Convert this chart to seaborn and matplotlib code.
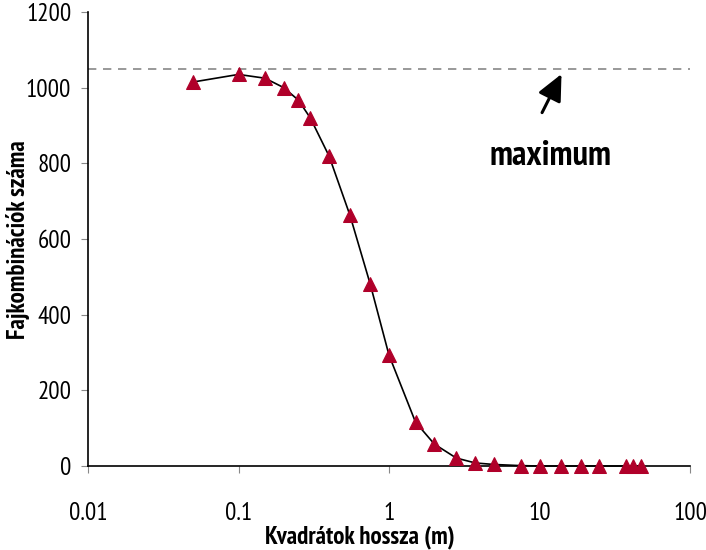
import matplotlib
matplotlib.use("Agg")
import matplotlib.pyplot as plt
import seaborn as sns
import pandas as pd
from matplotlib.ticker import FixedLocator, FixedFormatter, NullLocator

# Data
quadrat_length = [0.05, 0.1, 0.15, 0.2, 0.25, 0.3, 0.4, 0.55, 0.75, 1.0, 1.5, 2.0,
                  2.8, 3.75, 5.0, 7.5, 10, 14, 19, 25, 37.5, 42, 47]
species_pairs = [1015, 1035, 1025, 1000, 967, 920, 819, 663, 481, 293, 116, 58,
                 21, 8, 4, 1, 0, 0, 0, 0, 0, 0, 0]
maximum_value = 1050
x_ticks = [0.01, 0.1, 1, 10, 100]
x_tick_labels = ["0.01", "0.1", "1", "10", "100"]
y_ticks = [0, 200, 400, 600, 800, 1000, 1200]

sns.set_style("white")
plt.rcParams['font.family'] = ['PT Sans Narrow', 'DejaVu Sans']

df = pd.DataFrame({"x": quadrat_length, "y": species_pairs})

fig = plt.figure(figsize=(7.06, 5.5), dpi=100)
ax = fig.add_axes([88/706, 1-466/550, (690-88)/706, (466-12)/550])

sns.lineplot(data=df, x="x", y="y", ax=ax, color="black", linewidth=1.2,
             marker="^", markersize=10, markerfacecolor="#b0002a",
             markeredgecolor="#b0002a", zorder=3, clip_on=False)

ax.set_xscale("log")
ax.set_xlim(0.01, 100)
ax.set_ylim(0, 1200)
ax.xaxis.set_major_locator(FixedLocator(x_ticks))
ax.xaxis.set_major_formatter(FixedFormatter(x_tick_labels))
ax.xaxis.set_minor_locator(NullLocator())
ax.set_yticks(y_ticks)

ax.axhline(maximum_value, color="#888888", linestyle=(0, (5, 4)), linewidth=1.2, zorder=1)

for s in ["top", "right"]:
    ax.spines[s].set_visible(False)
for s in ["left", "bottom"]:
    ax.spines[s].set_color("black")
    ax.spines[s].set_linewidth(1.2)

ax.tick_params(axis="y", which="major", direction="out", length=5, color="#888888",
               labelsize=18, pad=7, left=True, labelcolor="black")
ax.tick_params(axis="x", which="major", direction="out", length=5, color="#888888",
               labelsize=18, pad=21, bottom=True, labelcolor="black")

ax.set_xlabel("Kvadrátok hossza (m)", fontsize=18, fontweight="bold", color="black")
ax.set_ylabel("Fajkombinációk száma", fontsize=18, fontweight="bold", color="black")
ax.xaxis.set_label_coords((360 - 88) / 602, -(537 - 466) / 454)
ax.yaxis.set_label_coords(-(88 - 18) / 602, (466 - 240) / 454)
ax.xaxis.label.set_va("center")
ax.yaxis.label.set_va("center")

ax.annotate("", xy=(14.0, 1036), xytext=(10.4, 934),
            arrowprops=dict(arrowstyle="-|>,head_width=0.75,head_length=1.6",
                            color="black", lw=2.2, shrinkA=0, shrinkB=0))
ax.text(11.9, 819, "maximum", fontsize=25, fontweight="bold", ha="center", va="center",
        color="black")

fig.savefig("out.png", dpi=100)
